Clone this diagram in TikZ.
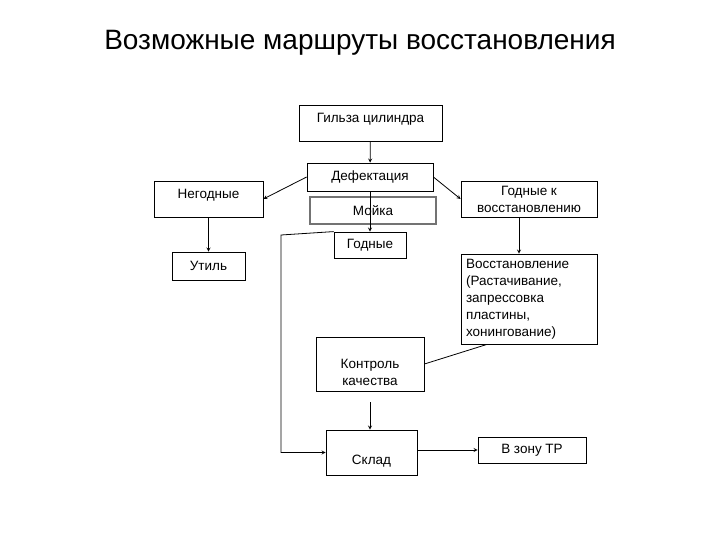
\documentclass[tikz,border=0pt]{standalone}
\usepackage{fontspec}
\setmainfont{Liberation Sans}
\usetikzlibrary{arrows}

\begin{document}
\begin{tikzpicture}[>=stealth, x=1pt, y=-1pt, line width=0.8pt,
    every node/.style={font=\fontsize{13.5}{17}\selectfont, inner sep=0pt},
    box/.style={draw, align=center},
    highbox/.style={box, text depth=11pt},
    greybox/.style={draw=black!55, line width=1.6pt, align=center},
    title/.style={font=\fontsize{28}{32}\selectfont}]
    \useasboundingbox (0,0) rectangle (720,540);

    \node[title] (ttl) at (360,43) {Возможные маршруты восстановления};

    \node[highbox, minimum width=143pt, minimum height=36pt] (gilza) at (370.5,123) {Гильза цилиндра};
    \node[box, minimum width=126pt, minimum height=28pt] (defekt) at (370,177) {Дефектация};
    \node[greybox, minimum width=126pt, minimum height=27pt] (moika) at (373,210.5) {Мойка};
    \node[box, minimum width=72pt, minimum height=26pt] (godnye) at (370,245) {Годные};
    \node[highbox, minimum width=109pt, minimum height=36pt] (negodn) at (208.5,199) {Негодные};
    \node[box, minimum width=73pt, minimum height=28pt] (util) at (208.5,266) {Утиль};
    \node[box, minimum width=136pt, minimum height=36pt] (godvos) at (529,199) {Годные к\\восстановлению};
    \node[box, minimum width=136pt, minimum height=90pt, align=left, text width=126pt] (vosst) at (529,299)
        {Восстановление\\(Растачивание,\\запрессовка\\пластины,\\хонингование)};
    \node[box, minimum width=108pt, minimum height=54pt] (kontrol) at (370,364) {\rule{0pt}{26pt}Контроль\\качества};
    \node[box, minimum width=91pt, minimum height=45pt] (sklad) at (371.5,452.5) {\rule{0pt}{26pt}Склад};
    \node[box, minimum width=108pt, minimum height=26pt] (vzonu) at (532,450) {В зону ТР};

    \coordinate (bend) at (281,235);

    \draw[->] (gilza) -- (defekt);
    \draw[->] (defekt) -- (godnye);
    \draw[->] (defekt.west) -- (negodn.east);
    \draw[->] (defekt.east) -- (godvos.west);
    \draw[->] (negodn) -- (util);
    \draw[->] ([xshift=-10pt]godvos.south) -- ([xshift=-10pt]vosst.north);
    \draw ([xshift=-42pt]vosst.south) -- (kontrol.east);
    \draw[->, shorten <=11pt] (kontrol.south) -- (kontrol.south |- sklad.north);
    \draw[->] (godnye.north west) -- (bend) -- (bend |- sklad.west) -- (sklad.west);
    \draw[->] (sklad.east |- vzonu.west) -- (vzonu.west);
\end{tikzpicture}
\end{document}
